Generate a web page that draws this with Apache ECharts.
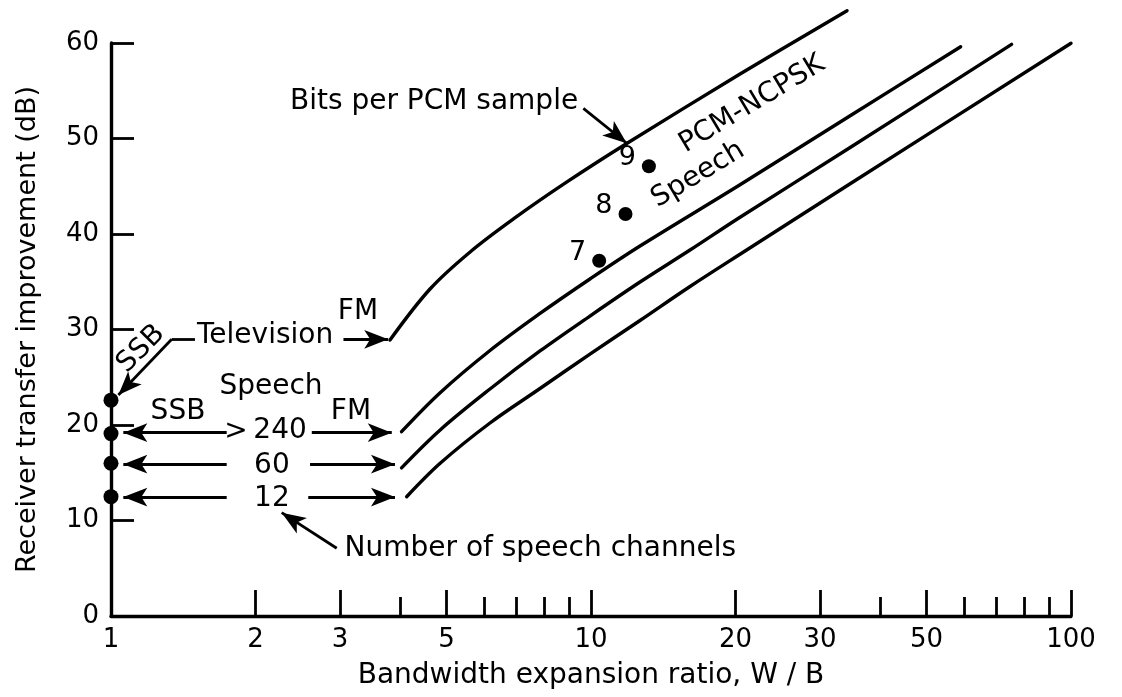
<!DOCTYPE html>
<html><head><meta charset="utf-8">
<script src="https://cdn.jsdelivr.net/npm/echarts@6/dist/echarts.min.js"></script>
<style>html,body{margin:0;padding:0;background:#fff}#c{width:1122px;height:697px}</style>
</head><body><div id="c"></div>
<script>
// ---- data ----
const xTickLabels = [1, 2, 3, 5, 10, 20, 30, 50, 100];
const xMajorTicks = [2, 3, 5, 10, 20, 30, 50, 100];
const xMinorTicks = [4, 6, 7, 8, 9, 40, 60, 70, 80, 90];

const fmTelevision = [[3.813, 28.9], [4.62, 34.24], [5.60, 38.12], [6.94, 41.68], [8.91, 45.45], [11.89, 49.5], [20.4, 56.72], [34.15, 63.38]];
const fmSpeech240 = [[4.03, 19.3], [4.85, 23.38], [6.16, 27.8], [7.83, 31.68], [9.95, 35.29], [12.65, 38.74], [20.4, 45.13], [34.6, 52.36], [58.9, 59.61]];
const fmSpeech60 = [[4.03, 15.51], [4.85, 19.48], [6.16, 23.77], [7.83, 27.75], [9.95, 31.41], [12.65, 34.97], [16.08, 38.32], [20.4, 41.73], [34.6, 49.03], [75.2, 59.86]];
const fmSpeech12 = [[4.13, 12.49], [4.85, 15.99], [6.16, 20.21], [7.83, 23.82], [9.95, 27.43], [12.65, 30.94], [16.08, 34.5], [21.1, 38.32], [34.6, 45.24], [100, 59.97]];
const ssbPoints = [[1, 22.6], [1, 19.1], [1, 16.0], [1, 12.5]];
const pcmPoints = [[10.4, 37.2], [11.8, 42.1], [13.2, 47.1]];
const pcmBits = ['7', '8', '9'];

// ---- annotations (text + arrows, in data coordinates) ----
const textNotes = [
  { t: 'Bits per PCM sample', at: [4.71, 53.9] },
  { t: 'PCM-NCPSK', at: [21.65, 53.6], rot: 31 },
  { t: 'Speech', at: [16.71, 46.2], rot: 31 },
  { t: 'FM', at: [3.27, 31.9] },
  { t: 'Television', at: [2.094, 29.4] },
  { t: 'SSB', at: [1.155, 27.96], rot: 45 },
  { t: 'Speech', at: [2.154, 23.98] },
  { t: 'SSB', at: [1.379, 21.36] },
  { t: 'FM', at: [3.162, 21.36] },
  { t: '>', at: [1.821, 19.27] },
  { t: '240', at: [2.25, 19.37] },
  { t: '60', at: [2.164, 15.7] },
  { t: '12', at: [2.164, 12.25] },
  { t: 'Number of speech channels', at: [3.058, 7.02], left: true }
];
const arrows = [
  { from: [1.338, 28.97], to: [1.496, 28.97], head: false },
  { from: [1.338, 28.97], to: [1.036, 23.14] },
  { from: [3.05, 28.97], to: [3.78, 28.97] },
  { from: [1.742, 19.2], to: [1.061, 19.2] },
  { from: [2.62, 19.2], to: [3.845, 19.2] },
  { from: [1.742, 15.9], to: [1.061, 15.9] },
  { from: [2.598, 15.9], to: [3.905, 15.9] },
  { from: [1.742, 12.45], to: [1.061, 12.45] },
  { from: [2.576, 12.45], to: [3.905, 12.45] },
  { from: [2.953, 7.09], to: [2.268, 10.82] },
  { from: [9.64, 53.16], to: [11.87, 49.5] }
];

const FONT = 'DejaVu Sans';
const INK = '#000';

const chart = echarts.init(document.getElementById('c'), null, { renderer: 'canvas' });

function curve(name, data) {
  return {
    name, type: 'line', data, xAxisIndex: 0, yAxisIndex: 0,
    showSymbol: false, smooth: 0.35, clip: false, silent: true,
    lineStyle: { color: INK, width: 3.4, cap: 'round', join: 'round' }
  };
}

const option = {
  animation: false,
  backgroundColor: '#fff',
  grid: { left: 111, right: 51, top: 43, bottom: 81 },
  xAxis: [
    {
      type: 'log', logBase: 10, min: 1, max: 100,
      name: 'Bandwidth expansion ratio, W / B', nameLocation: 'middle', nameGap: 46,
      nameTextStyle: { fontFamily: FONT, fontSize: 28, color: INK },
      axisLine: { show: true, lineStyle: { color: INK, width: 3.4 } },
      axisTick: { show: true, inside: true, length: 26, customValues: xMajorTicks, lineStyle: { color: INK, width: 2.8 } },
      axisLabel: { show: true, customValues: xTickLabels, fontFamily: FONT, fontSize: 26, color: INK, margin: 11,
        formatter: v => String(Math.round(v)) },
      splitLine: { show: false }, minorTick: { show: false }
    },
    {
      type: 'log', logBase: 10, min: 1, max: 100, position: 'bottom',
      axisLine: { show: false },
      axisTick: { show: true, inside: true, length: 19, customValues: xMinorTicks, lineStyle: { color: INK, width: 2.8 } },
      axisLabel: { show: false },
      splitLine: { show: false }
    }
  ],
  yAxis: {
    type: 'value', min: 0, max: 60, interval: 10,
    name: 'Receiver transfer improvement (dB)', nameLocation: 'middle', nameGap: 70, nameRotate: 90,
    nameTextStyle: { fontFamily: FONT, fontSize: 27, color: INK },
    axisLine: { show: true, lineStyle: { color: INK, width: 3.4 } },
    axisTick: { show: true, inside: true, length: 23, lineStyle: { color: INK, width: 2.8 } },
    axisLabel: { fontFamily: FONT, fontSize: 26, color: INK, margin: 12 },
    splitLine: { show: false }
  },
  series: [
    curve('FM television', fmTelevision),
    curve('FM speech 240', fmSpeech240),
    curve('FM speech 60', fmSpeech60),
    curve('FM speech 12', fmSpeech12),
    {
      name: 'SSB', type: 'scatter', data: ssbPoints, clip: false, silent: true,
      symbolSize: 15, itemStyle: { color: INK, opacity: 1 }
    },
    {
      name: 'PCM-NCPSK', type: 'scatter', clip: false, silent: true,
      data: pcmPoints.map((p, i) => ({ value: p, label: { formatter: pcmBits[i] } })),
      symbolSize: 14, itemStyle: { color: INK, opacity: 1 },
      label: { show: true, position: 'left', distance: 6, offset: [0, -8], fontFamily: FONT, fontSize: 27, color: INK }
    },
    {
      name: 'notes', type: 'scatter', clip: false, silent: true,
      symbolSize: 1, itemStyle: { color: 'rgba(0,0,0,0)', opacity: 1 },
      data: textNotes.map(n => ({
        value: n.at,
        label: {
          show: true, formatter: n.t, rotate: n.rot || 0,
          position: n.left ? 'right' : 'inside', distance: 0,
          fontFamily: FONT, fontSize: 28, color: INK
        }
      }))
    },
    {
      name: 'arrows', type: 'line', data: [], clip: false, silent: true,
      markLine: {
        silent: true, animation: false,
        label: { show: false },
        lineStyle: { color: INK, width: 2.8, type: 'solid' },
        emphasis: { disabled: true },
        data: arrows.map(a => [
          { coord: a.from, symbol: 'none' },
          { coord: a.to, symbol: a.head === false ? 'none' : 'arrow', symbolSize: [14, 24] }
        ])
      }
    }
  ]
};
chart.setOption(option);
</script>
</body></html>
